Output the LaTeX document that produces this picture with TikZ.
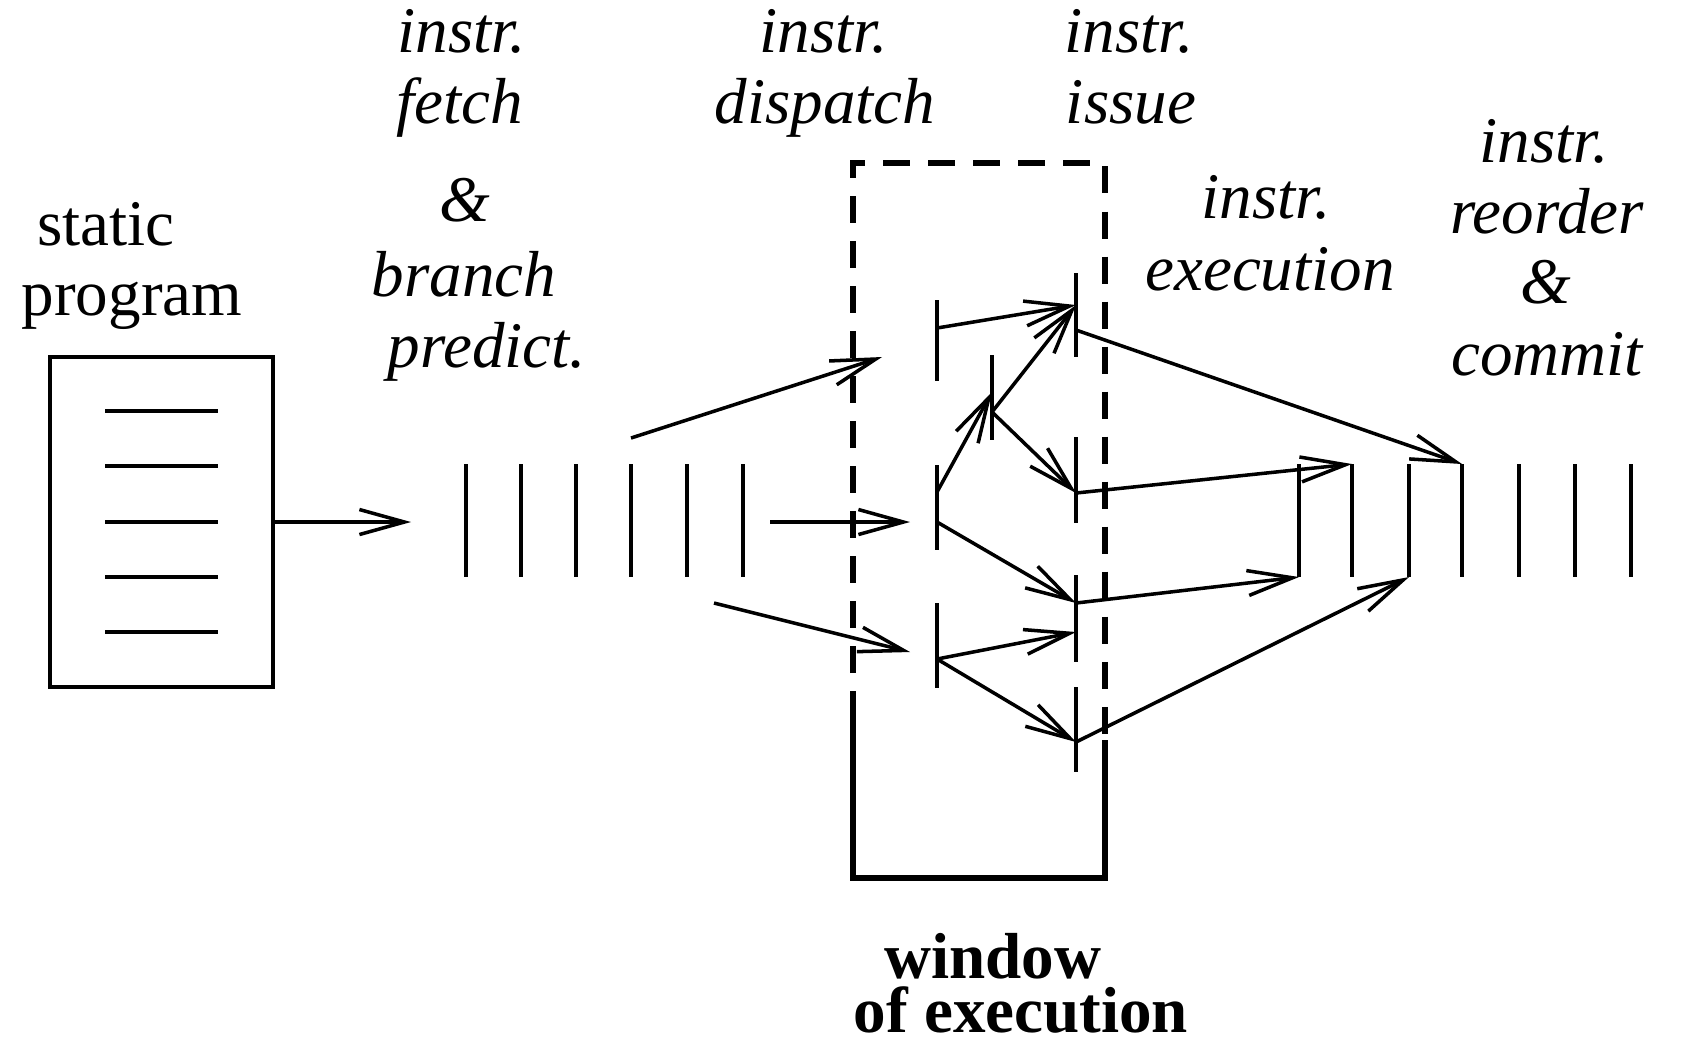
\documentclass[tikz,border=0pt]{standalone}
\usepackage{fontspec}
\setmainfont{Liberation Serif}
\usetikzlibrary{arrows.meta}
\begin{document}
\begin{tikzpicture}[x=0.01cm,y=-0.01cm,
  ln/.style={line width=1pt},
  barln/.style={line width=1.2pt},
  arr/.style={line width=1pt,-{Straight Barb[length=0.45cm,width=0.25cm,line width=1pt]}},
  lbl/.style={anchor=base,inner sep=0pt,font=\fontsize{18.5}{22}\selectfont\itshape},
  rlbl/.style={anchor=base,inner sep=0pt,font=\fontsize{18.5}{22}\selectfont},
  blbl/.style={anchor=base,inner sep=0pt,font=\fontsize{18.5}{22}\selectfont\bfseries},
  win/.style={line width=1.7pt},
  windash/.style={win,dash pattern=on 0.27cm off 0.18cm}]
\useasboundingbox (0,0) rectangle (1683,1041);

% ---------- labels ----------
\node[rlbl] (t-static) at (106,245) {static};
\node[rlbl] (t-program) at (132,315) {program};

\node[lbl] (t-f1) at (462,52) {instr.};
\node[lbl] (t-f2) at (460,123) {fetch};
\node[lbl] (t-f3) at (465,221) {\&};
\node[lbl] (t-f4) at (464,296) {branch};
\node[lbl] (t-f5) at (487,367) {predict.};

\node[lbl] (t-d1) at (824,52) {instr.};
\node[lbl] (t-d2) at (825,123) {dispatch};

\node[lbl] (t-i1) at (1129,52) {instr.};
\node[lbl] (t-i2) at (1131,123) {issue};

\node[lbl] (t-e1) at (1266,218) {instr.};
\node[lbl] (t-e2) at (1270,290) {execution};

\node[lbl] (t-r1) at (1544,162) {instr.};
\node[lbl] (t-r2) at (1547,233) {reorder};
\node[lbl] (t-r3) at (1546,303) {\&};
\node[lbl] (t-r4) at (1547,375) {commit};

\node[blbl] (t-w1) at (993,978) {window};
\node[blbl] (t-w2) at (1021,1032) {of execution};

% ---------- static program ----------
\node[draw,line width=1pt,minimum width=2.23cm,minimum height=3.30cm,inner sep=0pt] (prog) at (161.5,522) {};
\foreach \yy in {411,466,522,577,632}
  \draw[ln] (105,\yy) -- (218,\yy);

\coordinate (fetchin) at (411,522);
\draw[arr] (prog.east) -- (fetchin);

% fetched instruction stream
\foreach \xx in {466,521,576,631,687,743}
  \draw[ln] (\xx,464) -- (\xx,577);

% ---------- window of execution ----------
\draw[windash] (853,718) -- (853,163) -- (1105,163) -- (1105,740);
\draw[win] (853,718) -- (853,878) -- (1105,878) -- (1105,740);

% dispatch bars
\coordinate (A1) at (937,300); \coordinate (A2) at (937,381);
\coordinate (B1) at (937,465); \coordinate (B2) at (937,550);
\coordinate (C1) at (937,603); \coordinate (C2) at (937,688);
\draw[barln] (A1) -- (A2);
\draw[barln] (B1) -- (B2);
\draw[barln] (C1) -- (C2);
% middle bar
\coordinate (M1) at (992,355); \coordinate (M2) at (992,440);
\draw[barln] (M1) -- (M2);
% issue bars
\coordinate (I11) at (1076,273); \coordinate (I12) at (1076,357);
\coordinate (I21) at (1076,437); \coordinate (I22) at (1076,523);
\coordinate (I31) at (1076,575); \coordinate (I32) at (1076,662);
\coordinate (I41) at (1076,687); \coordinate (I42) at (1076,772);
\draw[barln] (I11) -- (I12);
\draw[barln] (I21) -- (I22);
\draw[barln] (I31) -- (I32);
\draw[barln] (I41) -- (I42);

% arrows into the window
\coordinate (sA) at (631,438);  \coordinate (tA) at (882,357);
\coordinate (sB) at (770,522);  \coordinate (tB) at (910,522);
\coordinate (sC) at (714,603);  \coordinate (tC) at (910,652);
\draw[arr] (sA) -- (tA);
\draw[arr] (sB) -- (tB);
\draw[arr] (sC) -- (tC);

% connection points
\coordinate (Aout) at (937,328);
\coordinate (Bup) at (937,492);
\coordinate (Bout) at (937,522);
\coordinate (Cout) at (937,659);
\coordinate (Min) at (992,392);
\coordinate (Mout) at (992,412);
\coordinate (I1p) at (1076,305);
\coordinate (I1o) at (1076,330);
\coordinate (I2p) at (1076,493);
\coordinate (I3p) at (1076,603);
\coordinate (I3q) at (1076,632);
\coordinate (I4p) at (1076,742);

\draw[arr] (Aout) -- (I1p);
\draw[arr] (Bup) -- (Min);
\draw[arr] (Mout) -- (I1p);
\draw[arr] (Mout) -- (I2p);
\draw[arr] (Bout) -- (I3p);
\draw[arr] (Cout) -- (I3q);
\draw[arr] (Cout) -- (I4p);

% ---------- commit stream ----------
\foreach \xx in {1299,1352,1409,1462,1519,1575,1631}
  \draw[line width=1.1pt] (\xx,464) -- (\xx,577);
\coordinate (K1b) at (1299,577);
\coordinate (K2t) at (1352,464);
\coordinate (K3b) at (1409,577);
\coordinate (K4t) at (1462,464);

\draw[arr] (I1o) -- (K4t);
\draw[arr] (I2p) -- (K2t);
\draw[arr] (I3p) -- (K1b);
\draw[arr] (I4p) -- (K3b);
\end{tikzpicture}
\end{document}
